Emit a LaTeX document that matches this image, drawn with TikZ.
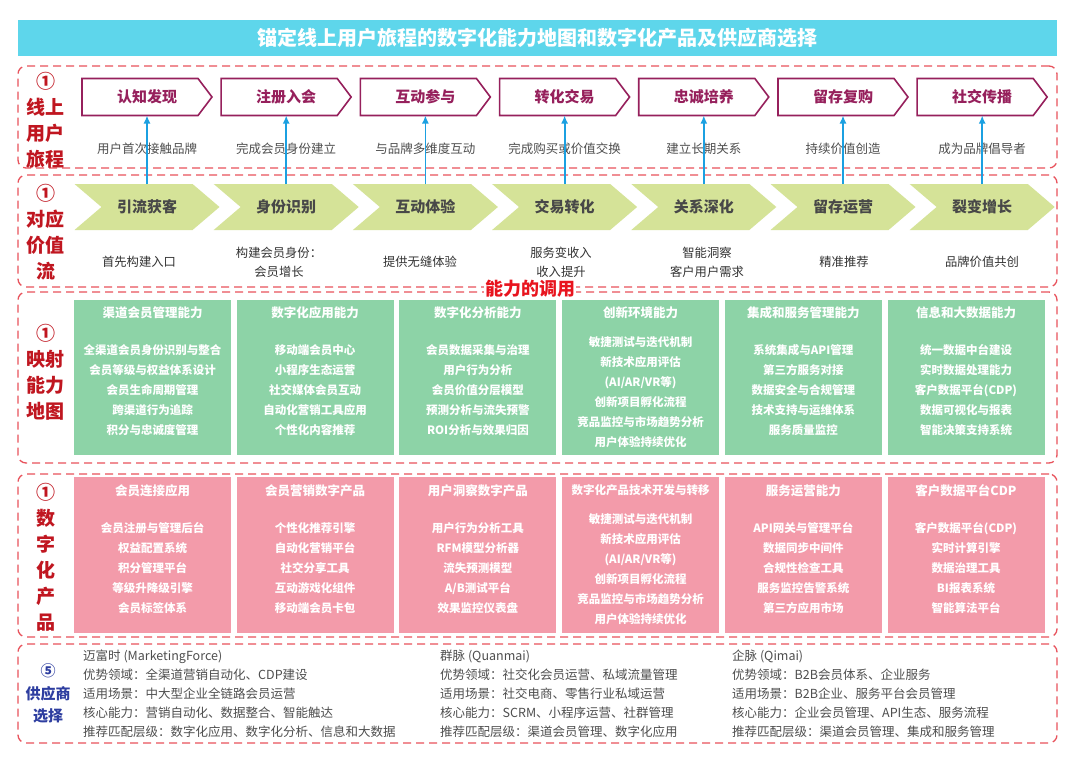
\documentclass[tikz,border=0pt]{standalone}
\usepackage{fontspec}
\setmainfont{Noto Sans CJK SC}
\usetikzlibrary{arrows.meta, positioning, shapes.symbols}
\definecolor{barcyan}{RGB}{94,214,235}
\definecolor{dashred}{RGB}{232,82,92}
\definecolor{labred}{RGB}{192,22,32}
\definecolor{labblue}{RGB}{46,62,160}
\definecolor{jrmagenta}{RGB}{150,32,92}
\definecolor{flowblue}{RGB}{27,160,225}
\definecolor{chevgreen}{RGB}{213,227,152}
\definecolor{chevtext}{RGB}{72,72,72}
\definecolor{capgreen}{RGB}{141,211,167}
\definecolor{prodpink}{RGB}{243,155,170}
\definecolor{calloutred}{RGB}{232,20,30}
\definecolor{notegray}{RGB}{78,78,78}
\tikzset{
  titlebar/.style={
    rectangle,
    fill=barcyan,
    minimum width=1039,
    minimum height=36,
    text=white,
    font=\bfseries\fontsize{20}{24}\selectfont
  },
  group/.style={
    rectangle,
    rounded corners=8pt,
    draw=dashred,
    dash pattern=on 8pt off 5pt,
    line width=1.3pt,
    minimum width=1039,
    inner sep=0pt
  },
  rowlabel/.style={
    align=center,
    text=labred,
    font=\bfseries\fontsize{19}{26}\selectfont
  },
  journey/.style={
    signal,
    signal to=east,
    signal pointer angle=106,
    draw=jrmagenta,
    line width=1.6pt,
    fill=white,
    minimum width=130,
    minimum height=37,
    outer sep=0pt,
    text=jrmagenta,
    execute at begin node={\hspace*{14pt}},
    font=\bfseries\fontsize{15}{18}\selectfont
  },
  valuechev/.style={
    signal,
    signal from=west,
    signal to=east,
    signal pointer angle=81,
    fill=chevgreen,
    minimum width=145,
    minimum height=46,
    outer sep=0pt,
    text=chevtext,
    font=\bfseries\fontsize{15}{18}\selectfont
  },
  jnote/.style={text=notegray, font=\fontsize{12.5}{15}\selectfont},
  vnote/.style={align=center, text=black!80, font=\fontsize{12.3}{19}\selectfont},
  uparrow/.style={-{Latex[length=8pt,width=7pt]}, draw=flowblue, line width=1.8pt},
  callout/.style={fill=white, inner sep=1pt, text=calloutred, font=\bfseries\fontsize{18}{20}\selectfont},
  capbox/.style={rectangle, fill=capgreen, minimum width=157, minimum height=155},
  prodbox/.style={rectangle, fill=prodpink, minimum width=157, minimum height=156},
  captitle/.style={text=white, font=\bfseries\fontsize{12.5}{15}\selectfont},
  capitems/.style={align=center, text=white, inner sep=0pt, font=\bfseries\fontsize{11.5}{20}\selectfont},
  vendorlabel/.style={align=center, text=labblue, font=\bfseries\fontsize{15}{22.5}\selectfont},
  vendor/.style={anchor=west, align=left, inner sep=0pt, text=notegray, font=\fontsize{12.5}{19.1}\selectfont}
}
\begin{document}
\begin{tikzpicture}[x=1pt,y=-1pt]
\useasboundingbox (0,0) rectangle (1080,760);
\fill[white] (0,0) rectangle (1080,760);

\node[titlebar] (title) at (537.5,38) {锚定线上用户旅程的数字化能力地图和数字化产品及供应商选择};

\node[group, minimum height=102] (row1) at (537.5,117) {};
\node[group, minimum height=112] (row2) at (537.5,231) {};
\node[group, minimum height=171] (row3) at (537.5,377.5) {};
\node[group, minimum height=163] (row4) at (537.5,555.5) {};
\node[group, minimum height=99] (row5) at (537.5,693.5) {};

\node[rowlabel] (lab1) at (46,120) {①\\线上\\用户\\旅程};
\node[rowlabel] (lab2) at (46,232) {①\\对应\\价值\\流};
\node[rowlabel] (lab3) at (46,372.5) {①\\映射\\能力\\地图};
\node[rowlabel] (lab4) at (46,557.5) {①\\数\\字\\化\\产\\品};
\node[vendorlabel] (lab5) at (48,693.5) {⑤\\供应商\\选择};

\node[journey] (j1) at (140,97) {认知发现};
\node[journey] (j2) at (279.2,97) {注册入会};
\node[journey] (j3) at (418.4,97) {互动参与};
\node[journey] (j4) at (557.6,97) {转化交易};
\node[journey] (j5) at (696.8,97) {忠诚培养};
\node[journey] (j6) at (836,97) {留存复购};
\node[journey] (j7) at (975.2,97) {社交传播};

\node[jnote] (jn1) at (147,149) {用户首次接触品牌};
\node[jnote] (jn2) at (286.2,149) {完成会员身份建立};
\node[jnote] (jn3) at (425.4,149) {与品牌多维度互动};
\node[jnote] (jn4) at (564.6,149) {完成购买或价值交换};
\node[jnote] (jn5) at (703.8,149) {建立长期关系};
\node[jnote] (jn6) at (843,149) {持续价值创造};
\node[jnote] (jn7) at (982.2,149) {成为品牌倡导者};

\node[valuechev] (v1) at (147,207) {引流获客};
\node[valuechev] (v2) at (286.2,207) {身份识别};
\node[valuechev] (v3) at (425.4,207) {互动体验};
\node[valuechev] (v4) at (564.6,207) {交易转化};
\node[valuechev] (v5) at (703.8,207) {关系深化};
\node[valuechev] (v6) at (843,207) {留存运营};
\node[valuechev] (v7) at (982.2,207) {裂变增长};

\node[vnote] (vn1) at (139,262) {首先构建入口};
\node[vnote] (vn2) at (279,262) {构建会员身份：\\会员增长};
\node[vnote] (vn3) at (420,262) {提供无缝体验};
\node[vnote] (vn4) at (561,262) {服务变收入\\收入提升};
\node[vnote] (vn5) at (707,262) {智能洞察\\客户用户需求};
\node[vnote] (vn6) at (844,262) {精准推荐};
\node[vnote] (vn7) at (982,262) {品牌价值共创};

\draw[uparrow] (v1.north) -- (v1.north |- j1.south);
\draw[uparrow] (v2.north) -- (v2.north |- j2.south);
\draw[uparrow] (v3.north) -- (v3.north |- j3.south);
\draw[uparrow] (v4.north) -- (v4.north |- j4.south);
\draw[uparrow] (v5.north) -- (v5.north |- j5.south);
\draw[uparrow] (v6.north) -- (v6.north |- j6.south);
\draw[uparrow] (v7.north) -- (v7.north |- j7.south);

\node[callout] (call) at (530,289) {能力的调用};

\node[capbox] (cap1) at (152.5,377.5) {};
\node[capbox] (cap2) at (315.2,377.5) {};
\node[capbox] (cap3) at (477.9,377.5) {};
\node[capbox] (cap4) at (640.6,377.5) {};
\node[capbox] (cap5) at (803.3,377.5) {};
\node[capbox] (cap6) at (966,377.5) {};
\node[captitle] (cap1t) at (152.5,313) {渠道会员管理能力};
\node[captitle] (cap2t) at (315.2,313) {数字化应用能力};
\node[captitle] (cap3t) at (477.9,313) {数字化分析能力};
\node[captitle] (cap4t) at (640.6,313) {创新环境能力};
\node[captitle] (cap5t) at (803.3,313) {集成和服务管理能力};
\node[captitle] (cap6t) at (966,313) {信息和大数据能力};
\node[capitems] (cap1i) at (152.5,390) {全渠道会员身份识别与整合\\会员等级与权益体系设计\\会员生命周期管理\\跨渠道行为追踪\\积分与忠诚度管理};
\node[capitems] (cap2i) at (315.2,390) {移动端会员中心\\小程序生态运营\\社交媒体会员互动\\自动化营销工具应用\\个性化内容推荐};
\node[capitems] (cap3i) at (477.9,390) {会员数据采集与治理\\用户行为分析\\会员价值分层模型\\预测分析与流失预警\\ROI分析与效果归因};
\node[capitems] (cap4i) at (640.6,392) {敏捷测试与迭代机制\\新技术应用评估\\(AI/AR/VR等)\\创新项目孵化流程\\竞品监控与市场趋势分析\\用户体验持续优化};
\node[capitems] (cap5i) at (803.3,390) {系统集成与API管理\\第三方服务对接\\数据安全与合规管理\\技术支持与运维体系\\服务质量监控};
\node[capitems] (cap6i) at (966,390) {统一数据中台建设\\实时数据处理能力\\客户数据平台(CDP)\\数据可视化与报表\\智能决策支持系统};

\node[prodbox] (prod1) at (152.5,555) {};
\node[prodbox] (prod2) at (315.2,555) {};
\node[prodbox] (prod3) at (477.9,555) {};
\node[prodbox] (prod4) at (640.6,555) {};
\node[prodbox] (prod5) at (803.3,555) {};
\node[prodbox] (prod6) at (966,555) {};
\node[captitle] (prod1t) at (152.5,491) {会员连接应用};
\node[captitle] (prod2t) at (315.2,491) {会员营销数字产品};
\node[captitle] (prod3t) at (477.9,491) {用户洞察数字产品};
\node[captitle, font=\bfseries\fontsize{11.5}{14}\selectfont] (prod4t) at (640.6,490) {数字化产品技术开发与转移};
\node[captitle] (prod5t) at (803.3,491) {服务运营能力};
\node[captitle] (prod6t) at (966,491) {客户数据平台CDP};
\node[capitems] (prod1i) at (152.5,568) {会员注册与管理后台\\权益配置系统\\积分管理平台\\等级升降级引擎\\会员标签体系};
\node[capitems] (prod2i) at (315.2,568) {个性化推荐引擎\\自动化营销平台\\社交分享工具\\互动游戏化组件\\移动端会员卡包};
\node[capitems] (prod3i) at (477.9,568) {用户行为分析工具\\RFM模型分析器\\流失预测模型\\A/B测试平台\\效果监控仪表盘};
\node[capitems] (prod4i) at (640.6,569) {敏捷测试与迭代机制\\新技术应用评估\\(AI/AR/VR等)\\创新项目孵化流程\\竞品监控与市场趋势分析\\用户体验持续优化};
\node[capitems] (prod5i) at (803.3,568) {API网关与管理平台\\数据同步中间件\\合规性检查工具\\服务监控告警系统\\第三方应用市场};
\node[capitems] (prod6i) at (966,568) {客户数据平台(CDP)\\实时计算引擎\\数据治理工具\\BI报表系统\\智能算法平台};

\node[vendor] (ven1) at (83,694) {迈富时 (MarketingForce)\\优势领域：全渠道营销自动化、CDP建设\\适用场景：中大型企业全链路会员运营\\核心能力：营销自动化、数据整合、智能触达\\推荐匹配层级：数字化应用、数字化分析、信息和大数据};
\node[vendor] (ven2) at (440,694) {群脉 (Quanmai)\\优势领域：社交化会员运营、私域流量管理\\适用场景：社交电商、零售行业私域运营\\核心能力：SCRM、小程序运营、社群管理\\推荐匹配层级：渠道会员管理、数字化应用};
\node[vendor] (ven3) at (732,694) {企脉 (Qimai)\\优势领域：B2B会员体系、企业服务\\适用场景：B2B企业、服务平台会员管理\\核心能力：企业会员管理、API生态、服务流程\\推荐匹配层级：渠道会员管理、集成和服务管理};
\end{tikzpicture}
\end{document}
